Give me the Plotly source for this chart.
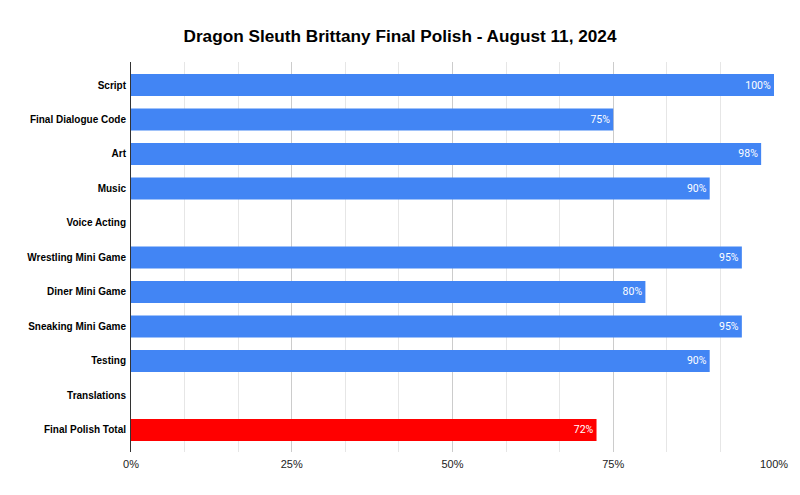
import plotly.graph_objects as go

categories = ["Script", "Final Dialogue Code", "Art", "Music", "Voice Acting",
              "Wrestling Mini Game", "Diner Mini Game", "Sneaking Mini Game",
              "Testing", "Translations", "Final Polish Total"]
values = [100, 75, 98, 90, None, 95, 80, 95, 90, None, 72.4]
colors = ["#4285f4"] * 10 + ["#ff0000"]
labels = [f"{round(v)}%" if v is not None else "" for v in values]
tick_vals = [0, 25, 50, 75, 100]
tick_text = ["0%", "25%", "50%", "75%", "100%"]

fig = go.Figure(go.Bar(
    x=values, y=categories, orientation="h",
    marker=dict(color=colors, line=dict(width=0)),
    text=labels, textposition="inside", insidetextanchor="end",
    textfont=dict(family="Roboto", size=10.5, color="white"),
    width=0.64, cliponaxis=False,
))

fig.update_layout(
    width=800, height=495,
    margin=dict(l=131, r=26, t=62, b=43),
    paper_bgcolor="white", plot_bgcolor="white",
    title=dict(text="Dragon Sleuth Brittany Final Polish - August 11, 2024",
               x=0.5, xref="container", xanchor="center", y=1 - 36 / 495, yanchor="middle",
               font=dict(family="Liberation Sans", size=17.2, color="black", weight="bold")),
    showlegend=False,
)
fig.update_xaxes(
    range=[0, 100], tickvals=tick_vals, ticktext=tick_text,
    tickfont=dict(family="Liberation Sans", size=11, color="#222"),
    showgrid=True, gridcolor="#cccccc", gridwidth=1,
    minor=dict(dtick=25 / 3, tick0=0, showgrid=True, gridcolor="#e6e6e6", gridwidth=1),
    zeroline=False, showline=False, ticks="", ticklen=0, ticklabelstandoff=4,
)
fig.update_yaxes(
    categoryorder="array", categoryarray=categories,
    range=[10.64, -0.667],
    tickfont=dict(family="Liberation Sans", size=10, color="black", weight="bold"),
    showline=True, linecolor="#333333", linewidth=1,
    showgrid=False, ticks="", ticklabelstandoff=2,
)
fig.write_html("out.html")
